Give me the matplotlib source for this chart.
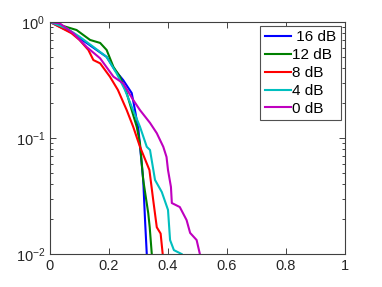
import numpy as np
import matplotlib
matplotlib.use("Agg")
import matplotlib.pyplot as plt

plt.rcParams['font.family'] = ['Liberation Sans', 'DejaVu Sans']
plt.rcParams['mathtext.fontset'] = 'custom'
plt.rcParams['mathtext.rm'] = 'Liberation Sans'
plt.rcParams['mathtext.it'] = 'Liberation Sans:italic'

labels = [" 16 dB", "12 dB", "8 dB", "4 dB", "0 dB"]
colors = ["#0000ff", "#008000", "#ff0000", "#00bfbf", "#bf00bf"]

x16 = [0, 0.068, 0.124, 0.158, 0.192, 0.22, 0.248, 0.277, 0.288, 0.30, 0.316, 0.322, 0.328]
y16 = [1, 0.825, 0.66, 0.574, 0.50, 0.385, 0.316, 0.244, 0.174, 0.117, 0.0435, 0.02, 0.01]

x12 = [0, 0.09, 0.136, 0.17, 0.192, 0.215, 0.237, 0.26, 0.277, 0.294, 0.305, 0.316, 0.333, 0.338, 0.345]
y12 = [1, 0.853, 0.70, 0.66, 0.574, 0.41, 0.338, 0.244, 0.174, 0.125, 0.09, 0.0435, 0.0225, 0.017, 0.01]

x8 = [0, 0.073, 0.10, 0.13, 0.147, 0.17, 0.203, 0.23, 0.26, 0.282, 0.305, 0.337, 0.35, 0.362, 0.375, 0.382]
y8 = [1, 0.80, 0.70, 0.574, 0.47, 0.44, 0.338, 0.26, 0.174, 0.125, 0.084, 0.053, 0.029, 0.017, 0.015, 0.01]

x4 = [0, 0.057, 0.10, 0.147, 0.192, 0.226, 0.254, 0.277, 0.305, 0.328, 0.339, 0.356, 0.379, 0.40, 0.407, 0.42, 0.446]
y4 = [1, 0.88, 0.747, 0.61, 0.50, 0.36, 0.26, 0.186, 0.125, 0.084, 0.0788, 0.0435, 0.0342, 0.024, 0.0132, 0.0108, 0.01]

x0 = [0, 0.034, 0.079, 0.124, 0.17, 0.215, 0.248, 0.282, 0.305, 0.339, 0.362, 0.384, 0.395, 0.40, 0.41,
      0.413, 0.44, 0.463, 0.475, 0.497, 0.508]
y0 = [1, 0.97, 0.80, 0.61, 0.486, 0.338, 0.296, 0.213, 0.174, 0.135, 0.11, 0.084, 0.0686, 0.053, 0.0378,
      0.0275, 0.0254, 0.0196, 0.0152, 0.0132, 0.01]

xs = [x16, x12, x8, x4, x0]
ys = [y16, y12, y8, y4, y0]

fig = plt.figure(figsize=(3.82, 2.87), dpi=100)
ax = fig.add_axes([50 / 382, 33 / 287, 295 / 382, 232 / 287])

for x, y, c, lab in zip(xs, ys, colors, labels):
    ax.plot(x, y, color=c, linewidth=1.5, label=lab)

ax.set_yscale("log")
ax.set_xlim(0, 1)
ax.set_ylim(0.01, 1)
ax.set_xticks([0, 0.2, 0.4, 0.6, 0.8, 1])
ax.set_xticklabels(["0", "0.2", "0.4", "0.6", "0.8", "1"])

ax.tick_params(which="both", direction="in", top=True, right=True, labelsize=10.5, colors="#262626")
ax.tick_params(which="major", length=4, width=0.6)
ax.tick_params(which="minor", length=2, width=0.6)
for s in ax.spines.values():
    s.set_color("#404040")
    s.set_linewidth(0.8)

leg = ax.legend(loc="upper right", fontsize=11, handlelength=1.7, handletextpad=0.1,
                borderaxespad=0.25, borderpad=0.3, fancybox=False, framealpha=1,
                labelspacing=0.25)
leg.get_frame().set_edgecolor("#505050")
leg.get_frame().set_linewidth(0.8)

fig.savefig("out.png", dpi=100)
